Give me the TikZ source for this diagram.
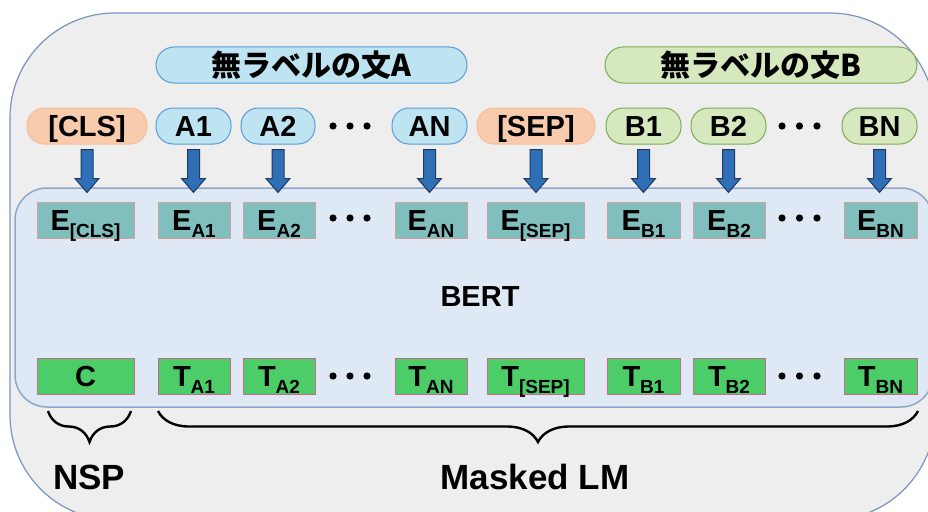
\documentclass[tikz,border=0pt]{standalone}
\usepackage{fontspec}
\setmainfont{Liberation Sans}
\newfontfamily\jpfont{Noto Sans CJK JP}
\usetikzlibrary{calc,decorations.pathreplacing}
\definecolor{outerfill}{HTML}{EEEEEE}
\definecolor{outerdraw}{HTML}{7D92C2}
\definecolor{bertfill}{HTML}{DEE9F5}
\definecolor{bertdraw}{HTML}{8FA6C9}
\definecolor{afill}{HTML}{BFE4F1}
\definecolor{adraw}{HTML}{5B9BD5}
\definecolor{bfill}{HTML}{D6E8BE}
\definecolor{bdraw}{HTML}{7EAA55}
\definecolor{sfill}{HTML}{F8CBAD}
\definecolor{sdraw}{HTML}{F4BE9C}
\definecolor{efill}{HTML}{80BFBE}
\definecolor{edraw}{HTML}{D0A0A0}
\definecolor{tfill}{HTML}{4CCD67}
\definecolor{tdraw}{HTML}{C66A8A}
\definecolor{arrfill}{HTML}{2E6FB5}
\definecolor{arrdraw}{HTML}{1F3864}
\newcommand\sbx[1]{\smash{\raisebox{-7pt}{\fontsize{19}{20}\selectfont #1}}}
\begin{document}
\begin{tikzpicture}[x=1pt,y=-1pt,
  font=\bfseries\fontsize{29}{30}\selectfont,
  tok/.style={rounded corners=17pt, minimum height=36pt, inner sep=0pt, text height=21pt, text depth=0pt, line width=1pt},
  tokA/.style={tok, fill=afill, draw=adraw},
  tokB/.style={tok, fill=bfill, draw=bdraw},
  tokS/.style={tok, fill=sfill, draw=sdraw},
  sent/.style={rounded corners=18pt, minimum height=36pt, inner sep=0pt, line width=1pt, font=\jpfont\bfseries\fontsize{30}{31}\selectfont},
  ebox/.style={minimum height=36pt, inner sep=0pt, text height=21pt, text depth=0pt, fill=efill, draw=edraw, line width=0.8pt},
  tbox/.style={minimum height=36pt, inner sep=0pt, text height=21pt, text depth=0pt, fill=tfill, draw=tdraw, line width=0.8pt},
  blockarrow/.style={fill=arrfill, draw=arrdraw, line width=1pt, line join=miter},
  bracestyle/.style={decorate, decoration={brace, mirror, amplitude=31pt}, line width=2.4pt},
  dotf/.style={fill=black}
]
\useasboundingbox (0,0) rectangle (928,511);
\clip (0,0) rectangle (928,511);
% outer frame
\draw[fill=outerfill, draw=outerdraw, line width=1.2pt, rounded corners=105pt] (10,13) rectangle (935,520);
% BERT box
\draw[fill=bertfill, draw=bertdraw, line width=1.5pt, rounded corners=32pt] (15,188) rectangle (933,407);
\node (bert) at (480,297) {BERT};

% sentence labels
\node[sent, fill=afill, draw=adraw, minimum width=311pt] (sa) at (311.5,65) {無ラベルの文A};
\node[sent, fill=bfill, draw=bdraw, minimum width=312pt] (sb) at (761,65) {無ラベルの文B};

% tokens
\node[tokS, minimum width=120pt] (cls) at (87,126) {[CLS]};
\node[tokA, minimum width=75pt] (a1) at (193.5,126) {A1};
\node[tokA, minimum width=74pt] (a2) at (278,126) {A2};
\node[tokA, minimum width=75pt] (an) at (429.5,126) {AN};
\node[tokS, minimum width=118pt] (sep) at (536,126) {[SEP]};
\node[tokB, minimum width=75pt] (b1) at (643.5,126) {B1};
\node[tokB, minimum width=75pt] (b2) at (728.5,126) {B2};
\node[tokB, minimum width=75pt] (bn) at (879.5,126) {BN};

% embeddings
\node[ebox, minimum width=97pt] (ecls) at (85.5,220) {E\sbx{[CLS]}};
\node[ebox, minimum width=72pt] (ea1) at (194,220) {E\sbx{A1}};
\node[ebox, minimum width=72pt] (ea2) at (279,220) {E\sbx{A2}};
\node[ebox, minimum width=72pt] (ean) at (431,220) {E\sbx{AN}};
\node[ebox, minimum width=97pt] (esep) at (535.5,220) {E\sbx{[SEP]}};
\node[ebox, minimum width=73pt] (eb1) at (643.5,220) {E\sbx{B1}};
\node[ebox, minimum width=72pt] (eb2) at (729,220) {E\sbx{B2}};
\node[ebox, minimum width=73pt] (ebn) at (880.5,220) {E\sbx{BN}};

% outputs
\node[tbox, minimum width=97pt] (tc) at (85.5,376) {C};
\node[tbox, minimum width=72pt] (ta1) at (194,376) {T\sbx{A1}};
\node[tbox, minimum width=72pt] (ta2) at (279,376) {T\sbx{A2}};
\node[tbox, minimum width=72pt] (tan) at (431,376) {T\sbx{AN}};
\node[tbox, minimum width=97pt] (tsep) at (535.5,376) {T\sbx{[SEP]}};
\node[tbox, minimum width=73pt] (tb1) at (643.5,376) {T\sbx{B1}};
\node[tbox, minimum width=72pt] (tb2) at (729,376) {T\sbx{B2}};
\node[tbox, minimum width=73pt] (tbn) at (880.5,376) {T\sbx{BN}};

% dots
\foreach \y in {126,218,376}{
  \foreach \x in {333,350,367,782,799.5,817}{
    \fill[dotf] (\x,\y) circle (3.6pt);
  }
}

% block arrows
\foreach \n in {cls,a1,a2,an,sep,b1,b2,bn}{
  \draw[blockarrow] ($(\n.south)+(-6,5)$) -- ($(\n.south)+(-6,34)$) -- ($(\n.south)+(-12,34)$) -- ($(\n.south)+(0,48)$) -- ($(\n.south)+(12,34)$) -- ($(\n.south)+(6,34)$) -- ($(\n.south)+(6,5)$) -- cycle;
}

% braces
\coordinate (nspL) at (48,411);
\coordinate (nspR) at (131,411);
\coordinate (mlmL) at (158,411);
\coordinate (mlmR) at (918,411);
\draw[bracestyle] (nspL) -- (nspR);
\draw[bracestyle] (mlmL) -- (mlmR);

\node (nsp) at (89,477) {\fontsize{35}{36}\selectfont NSP};
\node (mlm) at (535,477) {\fontsize{35}{36}\selectfont Masked LM};
\end{tikzpicture}
\end{document}
